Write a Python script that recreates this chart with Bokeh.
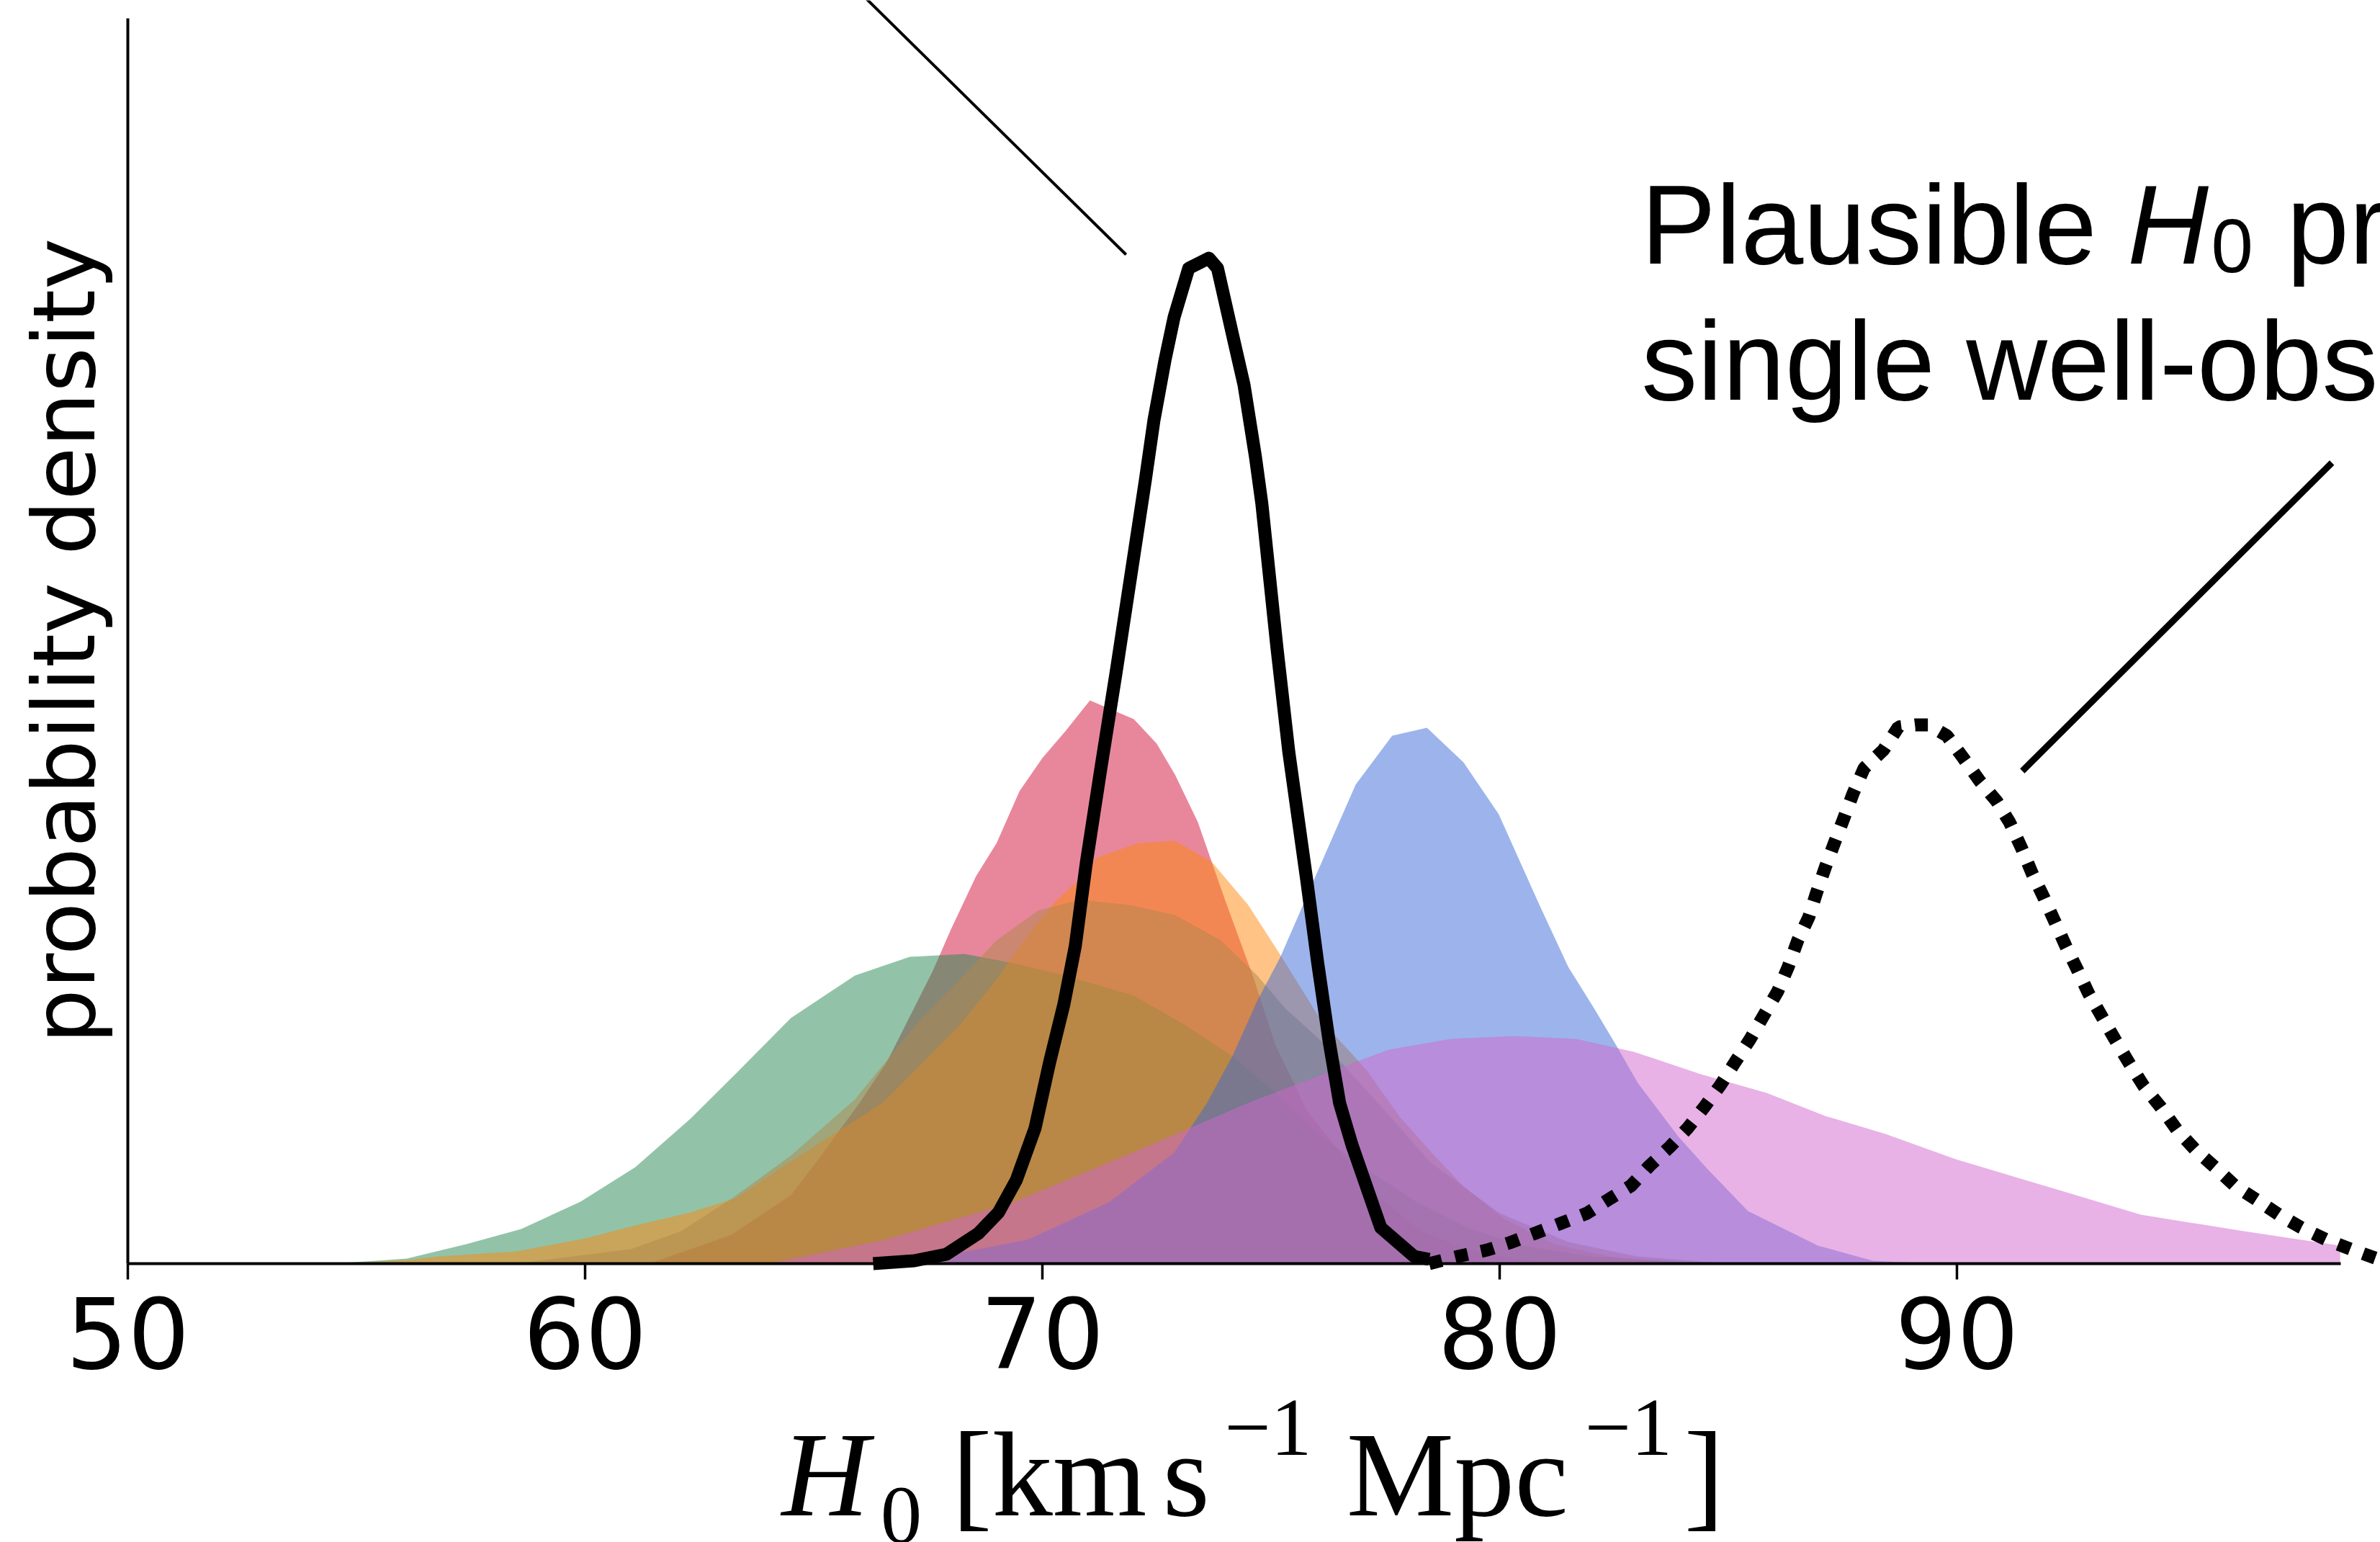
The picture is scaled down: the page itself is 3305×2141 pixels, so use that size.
from bokeh.plotting import figure
from bokeh.models import Range1d, FixedTicker
from bokeh.core.properties import value
from bokeh.embed import file_html
from bokeh.resources import INLINE

# ---------------- data (H0 in km/s/Mpc, probability density) -------------
red_h0 = [61.4, 63.2, 64.5, 65.0, 66.0, 66.6, 67.6, 68.0, 68.55, 69.0, 69.5, 70.0, 70.5, 71.04,
          72.0, 72.5, 72.9, 73.4, 74.0, 74.6, 75.1, 75.8, 76.6, 77.4, 78.3, 79.3, 80.5, 82.0]
red_pdf = [0.0, 0.008, 0.019, 0.0272, 0.0446, 0.056, 0.0812, 0.0928, 0.1076, 0.1168, 0.1312, 0.1404,
           0.1478, 0.1564, 0.1512, 0.1444, 0.1358, 0.1226, 0.1008, 0.080, 0.0606, 0.0422, 0.0296,
           0.018, 0.009, 0.004, 0.001, 0.0]

green_h0 = [54.5, 56.1, 57.4, 58.6, 59.9, 61.1, 62.3, 63.3, 64.5, 65.9, 67.1, 68.3, 69.3, 70.5,
            72.0, 73.1, 74.2, 75.1, 76.1, 77.1, 78.2, 79.3, 80.5, 82.0, 84.0, 86.0]
green_pdf = [0.0, 0.0014, 0.0054, 0.0096, 0.0172, 0.0268, 0.0402, 0.0528, 0.0682, 0.0800, 0.0852,
             0.0860, 0.0836, 0.0800, 0.0744, 0.0664, 0.0572, 0.0474, 0.0354, 0.0262, 0.017, 0.010,
             0.005, 0.002, 0.0005, 0.0]

orange_h0 = [54.6, 56.1, 56.8, 58.5, 60.0, 61.1, 62.3, 63.3, 64.5, 66.5, 67.3, 68.2, 69.0, 69.7,
             70.3, 70.8, 71.2, 72.1, 72.9, 73.7, 74.5, 75.2, 76.1, 76.6, 77.1, 77.8, 78.5, 79.2,
             80.1, 81.2, 82.4, 84.0]
orange_pdf = [0.0, 0.001, 0.002, 0.0034, 0.007, 0.0106, 0.0142, 0.0182, 0.0284, 0.0446, 0.0548,
              0.0664, 0.079, 0.0916, 0.1008, 0.1066, 0.1128, 0.1168, 0.1174, 0.1116, 0.0996, 0.0858,
              0.0674, 0.0606, 0.0536, 0.041, 0.031, 0.0216, 0.0124, 0.0054, 0.002, 0.0]

ochre_h0 = [58.5, 61.0, 62.1, 63.2, 64.5, 65.9, 67.3, 68.2, 69.0, 69.9, 70.8, 71.9, 72.9, 73.9,
            74.7, 75.3, 76.1, 77.1, 78.5, 80.0, 81.5, 83.0, 85.0]
ochre_pdf = [0.0, 0.004, 0.009, 0.018, 0.030, 0.0456, 0.0674, 0.079, 0.0898, 0.098, 0.101, 0.0996,
             0.0968, 0.0898, 0.080, 0.071, 0.0618, 0.048, 0.028, 0.014, 0.006, 0.002, 0.0]

blue_h0 = [66.0, 67.75, 69.67, 71.45, 72.88, 73.6, 74.17, 74.7, 75.2, 75.94, 76.16, 76.85, 77.65,
           78.41, 79.21, 79.98, 80.46, 80.87, 81.5, 82.06, 82.55, 83.02, 83.9, 84.55, 85.43, 86.96,
           88.16, 89.5]
blue_pdf = [0.0, 0.002, 0.0066, 0.017, 0.0308, 0.0446, 0.058, 0.073, 0.085, 0.1066, 0.113, 0.133,
            0.1466, 0.1488, 0.1392, 0.1248, 0.1112, 0.0996, 0.0824, 0.071, 0.0606, 0.0502, 0.0354,
            0.0262, 0.0146, 0.005, 0.0008, 0.0]

orchid_h0 = [64.0, 66.55, 69.35, 72.08, 74.57, 76.6, 77.57, 78.93, 80.3, 81.67, 82.94, 84.4, 85.84,
             87.12, 88.44, 89.97, 92.24, 94.02, 96.28, 98.38]
orchid_pdf = [0.0, 0.0066, 0.017, 0.0314, 0.045, 0.0548, 0.0594, 0.0624, 0.0632, 0.0624, 0.0588,
              0.0526, 0.0474, 0.041, 0.036, 0.029, 0.0204, 0.0136, 0.009, 0.005]

combined_h0 = [66.3, 67.2, 67.9, 68.6, 69.04, 69.43, 69.84, 70.16, 70.47, 70.72, 70.96, 71.28, 71.61,
               72.25, 72.44, 72.68, 72.88, 73.2, 73.64, 73.83, 74.19, 74.41, 74.66, 74.80, 75.13,
               75.39, 75.78, 76.02, 76.27, 76.50, 76.77, 77.40, 78.13, 78.46]
combined_pdf = [0.0, 0.0008, 0.0026, 0.0084, 0.0142, 0.0232, 0.0376, 0.056, 0.072, 0.0882, 0.1112,
                0.1376, 0.164, 0.2174, 0.2342, 0.2508, 0.2628, 0.2764, 0.2792, 0.2764, 0.2562, 0.244,
                0.224, 0.211, 0.171, 0.142, 0.1066, 0.0836, 0.0618, 0.0446, 0.033, 0.010, 0.002,
                0.0012]

single_h0 = [78.46, 79.09, 79.73, 80.22, 80.77, 81.34, 81.91, 82.43, 82.87, 83.28, 83.72, 84.11,
             84.47, 84.83, 85.15, 85.48, 85.76, 86.08, 86.31, 86.52, 86.76, 86.93, 87.12, 87.32,
             87.53, 87.73, 87.97, 88.39, 88.72, 89.09, 89.37, 89.78, 90.14, 90.50, 90.87, 91.15,
             91.42, 91.65, 91.91, 92.14, 92.38, 92.65, 92.88, 93.17, 93.45, 93.78, 94.09, 94.46,
             94.82, 95.23, 95.64, 96.08, 96.57, 97.04, 97.53, 98.09, 98.66, 99.18, 99.6]
single_pdf = [0.0, 0.002, 0.0038, 0.0058, 0.0084, 0.0112, 0.014, 0.0182, 0.0216, 0.0272, 0.0324,
              0.0376, 0.0434, 0.0496, 0.056, 0.0624, 0.0686, 0.0756, 0.0824, 0.0898, 0.0962, 0.103,
              0.110, 0.1168, 0.1238, 0.1306, 0.1376, 0.1426, 0.149, 0.1496, 0.1496, 0.1466, 0.1404,
              0.134, 0.1284, 0.1226, 0.1152, 0.1082, 0.1014, 0.095, 0.0882, 0.0812, 0.075, 0.0686,
              0.0624, 0.0554, 0.0492, 0.0434, 0.037, 0.0314, 0.0268, 0.0216, 0.0176, 0.0136, 0.010,
              0.0066, 0.0038, 0.0014, 0.0]

x_ticks = [50, 60, 70, 80, 90]

# ---------------- layout ----------------
W, H = 3305, 2141
PX_X, PX_Y = 63.5, 5000.0          # pixels per km/s/Mpc, pixels per unit density
ORIGIN_X, ORIGIN_Y = 177, 1754      # pixel position of (50, 0)
x_start = 50 - ORIGIN_X / PX_X
x_end = x_start + W / PX_X
y_end = ORIGIN_Y / PX_Y
y_start = y_end - H / PX_Y

p = figure(width=W, height=H, x_range=Range1d(x_start, x_end), y_range=Range1d(y_start, y_end),
           output_backend="svg", toolbar_location=None, min_border=0,
           min_border_left=0, min_border_bottom=0, min_border_top=0, min_border_right=0)
p.outline_line_color = None
p.grid.visible = False
p.background_fill_color = "white"
p.border_fill_color = "white"

fills = [
    (red_h0, red_pdf, "#d10f37"),
    (green_h0, green_pdf, "#258751"),
    (orange_h0, orange_pdf, "#fe870c"),
    (ochre_h0, ochre_pdf, "#b0874b"),
    (blue_h0, blue_pdf, "#3969d7"),
    (orchid_h0, orchid_pdf, "#d165cd"),
]
for xs, ys, col in fills:
    p.varea(x=xs, y1=[0] * len(xs), y2=ys, fill_color=col, fill_alpha=0.5)

# combined (solid) and single-event (dotted) curves
p.line(combined_h0, combined_pdf, line_color="black", line_width=18, line_join="round")
p.line(single_h0, single_pdf, line_color="black", line_width=18, line_dash="18 19",
       line_cap="butt")

# annotation pointer lines
p.segment(x0=[65.37], y0=[0.361], x1=[71.83], y1=[0.2802], line_color="black", line_width=4)
p.segment(x0=[98.2], y0=[0.2224], x1=[91.43], y1=[0.1368], line_color="black", line_width=9)

# axes fixed at the data origin, acting as the two spines
xa = p.xaxis[0]
xa.fixed_location = 0
xa.bounds = (50, 98.4)
xa.ticker = FixedTicker(ticks=x_ticks)
xa.axis_line_color = "black"
xa.axis_line_width = 4
xa.major_tick_in = 0
xa.major_tick_out = 22
xa.major_tick_line_width = 3.5
xa.minor_tick_line_color = None
xa.major_label_text_font = "DejaVu Sans"
xa.major_label_text_font_size = "135px"
xa.major_label_text_color = "black"
xa.major_label_standoff = 24

ya = p.yaxis[0]
ya.fixed_location = 50
ya.bounds = (0, 0.3458)
ya.ticker = FixedTicker(ticks=[])
ya.axis_line_color = "black"
ya.axis_line_width = 4
ya.major_tick_line_color = None
ya.minor_tick_line_color = None
ya.major_tick_out = 0
ya.major_tick_in = 0
ya.axis_label = "probability density"
ya.axis_label_text_font = "DejaVu Sans"
ya.axis_label_text_font_size = "120px"
ya.axis_label_text_font_style = "normal"
ya.axis_label_text_color = "black"
ya.axis_label_standoff = 19

# x-axis label built from pieces: H_0 [km s^-1 Mpc^-1]
serif = value("Liberation Serif")
pieces = [
    (64.30, -0.0585, "H", "168px", "italic"),
    (66.46, -0.0700, "0", "115px", "normal"),
    (68.02, -0.0585, "[km", "168px", "normal"),
    (72.63, -0.0585, "s", "168px", "normal"),
    (73.98, -0.0455, "\u22121", "114px", "normal"),
    (76.65, -0.0585, "Mpc", "168px", "normal"),
    (81.86, -0.0455, "\u22121", "114px", "normal"),
    (84.03, -0.0585, "]", "168px", "normal"),
]
for x, y, t, fs, st in pieces:
    p.text(x=[x], y=[y], text=[t], text_font=serif, text_font_size=fs, text_font_style=st,
           text_baseline="alphabetic", text_align="left", text_color="black")

# annotation text inside the axes
sans = value("Liberation Sans")
notes = [
    (83.09, 0.2886, "Plausible", "156px", "normal"),
    (93.73, 0.2886, "H", "156px", "italic"),
    (95.56, 0.2827, "0", "105px", "normal"),
    (97.21, 0.2886, "pr", "156px", "normal"),
    (83.10, 0.2508, "single well-obs", "156px", "normal"),
]
for x, y, t, fs, st in notes:
    p.text(x=[x], y=[y], text=[t], text_font=sans, text_font_size=fs, text_font_style=st,
           text_baseline="alphabetic", text_align="left", text_color="black")

open("out.html", "w").write(file_html(p, INLINE))
